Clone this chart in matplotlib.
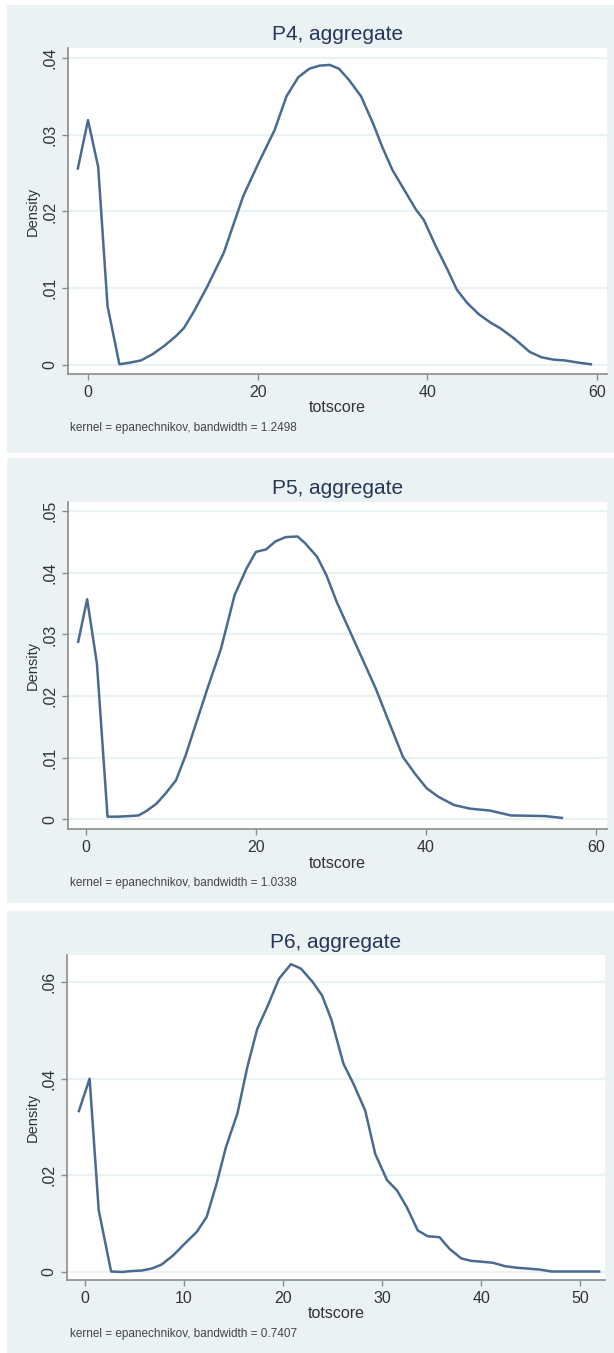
import matplotlib
matplotlib.use("Agg")
import matplotlib.pyplot as plt
from matplotlib.patches import Rectangle

W, H = 614, 1353

# colours (stata s2color look)
BG = "#eaf2f3"
LINE = "#4a6b91"
AXIS = "#8c8c8c"
TITLE_C = "#25365a"
TEXT_C = "#333333"

# ---- data ----
P4_X = [-1.2, 0, 1.2, 2.3, 3.7, 4.9, 6.25, 7.6, 9.0, 10.4, 11.3, 12.5, 14.1, 16.0,
        18.3, 20.1, 22.0, 23.4, 24.8, 26.1, 27.3, 28.5, 29.6, 30.8, 32.2, 33.6,
        34.7, 35.9, 37.3, 38.7, 39.6, 41.0, 42.4, 43.5, 44.7, 46.1, 47.5, 48.6,
        50.2, 52.1, 53.5, 54.9, 56.2, 57.9, 59.3]
P4_Y = [.0256, .0319, .0258, .0077, .0001, .0003, .0006, .0014, .0025, .0038, .0048,
        .0070, .0103, .0146, .0220, .0263, .0306, .0350, .0375, .0386, .0390, .0391,
        .0386, .0371, .0350, .0315, .0284, .0254, .0228, .0202, .0189, .0155, .0124,
        .0098, .0081, .0066, .0055, .0048, .0035, .0017, .0010, .0007, .0006, .0003,
        .0001]

P5_X = [-0.9, 0.15, 1.3, 2.55, 3.7, 5.1, 6.2, 7.1, 8.3, 9.4, 10.6, 11.75, 12.9, 14.3,
        15.9, 17.5, 18.9, 20.0, 21.2, 22.3, 23.5, 24.9, 25.8, 27.2, 28.3, 29.5, 30.9,
        32.5, 34.1, 35.5, 37.3, 38.7, 40.1, 41.5, 43.3, 45.2, 47.5, 50.0, 54.0, 56.0]
P5_Y = [.0288, .0357, .0253, .0004, .0004, .0005, .0006, .0013, .0025, .0042, .0063,
        .0104, .0153, .0212, .0277, .0364, .0407, .0434, .0438, .0451, .0458, .0459,
        .0448, .0426, .0396, .0353, .0310, .0261, .0212, .0163, .0101, .0074, .0050,
        .0036, .0023, .0017, .0014, .0006, .0005, .0002]

P6_X = [-0.6, 0.48, 1.4, 2.65, 3.76, 4.75, 5.74, 6.73, 7.72, 8.9, 10.1, 11.3, 12.3,
        13.3, 14.25, 15.4, 16.4, 17.4, 18.4, 19.6, 20.8, 21.8, 23.0, 23.95, 24.9,
        26.1, 27.1, 28.3, 29.3, 30.5, 31.5, 32.5, 33.6, 34.6, 35.8, 36.8, 38.0, 39.0,
        40.2, 41.2, 42.4, 43.5, 44.7, 45.9, 47.1, 51.9]
P6_Y = [.0333, .0400, .0128, .0001, .0000, .0002, .0003, .0007, .0015, .0034, .0059,
        .0083, .0114, .0183, .0259, .0328, .0424, .0503, .0548, .0607, .0637, .0628,
        .0600, .0572, .0521, .0431, .0390, .0334, .0245, .0190, .0169, .0134, .0086,
        .0074, .0072, .0048, .0028, .0023, .0021, .0019, .0012, .0009, .0007, .0005,
        .0001, .0001]

TITLES = ["P4, aggregate", "P5, aggregate", "P6, aggregate"]
NOTES = ["kernel = epanechnikov, bandwidth = 1.2498",
         "kernel = epanechnikov, bandwidth = 1.0338",
         "kernel = epanechnikov, bandwidth = 0.7407"]
Y_TICKS = [[0, .01, .02, .03, .04],
           [0, .01, .02, .03, .04, .05],
           [0, .02, .04, .06]]
Y_LABELS = [["0", ".01", ".02", ".03", ".04"],
            ["0", ".01", ".02", ".03", ".04", ".05"],
            ["0", ".02", ".04", ".06"]]
X_TICKS = [[0, 20, 40, 60],
           [0, 20, 40, 60],
           [0, 10, 20, 30, 40, 50]]

# layout in pixels: panel box, plot box (l, t, r, b), limits
PANELS = [(5, 453), (458, 903), (911, 1353)]
PLOTS = [(68, 48, 607, 374), (68, 502, 607, 829), (67, 955, 605, 1280)]
XLIMS = [(-2.36, 61.2), (-2.1, 61.3), (-1.8, 52.5)]
YLIMS = [(-0.00117, 0.0413), (-0.0016, 0.0515), (-0.00166, 0.0656)]


def fx(px):
    return px / W


def fy(py):
    return 1 - py / H


fig = plt.figure(figsize=(W / 100, H / 100), dpi=100, facecolor="white")
plt.rcParams["font.family"] = ["Liberation Sans", "DejaVu Sans"]

series = [(P4_X, P4_Y), (P5_X, P5_Y), (P6_X, P6_Y)]

for i in range(3):
    top, bot = PANELS[i]
    fig.patches.append(Rectangle((fx(7), fy(bot)), fx(614 - 7), (bot - top) / H,
                                 transform=fig.transFigure, facecolor=BG,
                                 edgecolor="none", zorder=-5))
    l, t, r, b = PLOTS[i]
    ax = fig.add_axes([fx(l), fy(b), (r - l) / W, (b - t) / H])
    ax.set_zorder(2)
    ax.set_facecolor("white")
    xs, ys = series[i]
    ax.plot(xs, ys, color=LINE, lw=1.8, solid_joinstyle="round", zorder=3)
    ax.set_xlim(*XLIMS[i])
    ax.set_ylim(*YLIMS[i])
    ax.set_xticks(X_TICKS[i])
    ax.set_yticks(Y_TICKS[i])
    ax.set_yticklabels(Y_LABELS[i], rotation=90, va="center")
    for yv in Y_TICKS[i]:
        ax.axhline(yv, color=BG, lw=1.6, zorder=1)
    for s in ["top", "right"]:
        ax.spines[s].set_visible(False)
    for s in ["left", "bottom"]:
        ax.spines[s].set_color(AXIS)
        ax.spines[s].set_linewidth(1.2)
    ax.tick_params(axis="both", colors=AXIS, length=4, width=1,
                   labelcolor=TEXT_C, labelsize=11.5)
    ax.tick_params(axis="x", pad=4)
    ax.tick_params(axis="y", pad=3.5)

    cx = (l + r) / 2
    fig.text(fx(cx), fy(t - 13), TITLES[i], ha="center", va="center",
             fontsize=15, color=TITLE_C)
    fig.text(fx(cx), fy(b + 34), "totscore", ha="center", va="center",
             fontsize=11.5, color=TEXT_C)
    fig.text(fx(33), fy((t + b) / 2), "Density", ha="center", va="center",
             rotation=90, fontsize=10.5, color=TEXT_C)
    fig.text(fx(70), fy(b + 54), NOTES[i], ha="left", va="center",
             fontsize=8.5, color="#444444")

fig.savefig("out.png", dpi=100, facecolor="white")
